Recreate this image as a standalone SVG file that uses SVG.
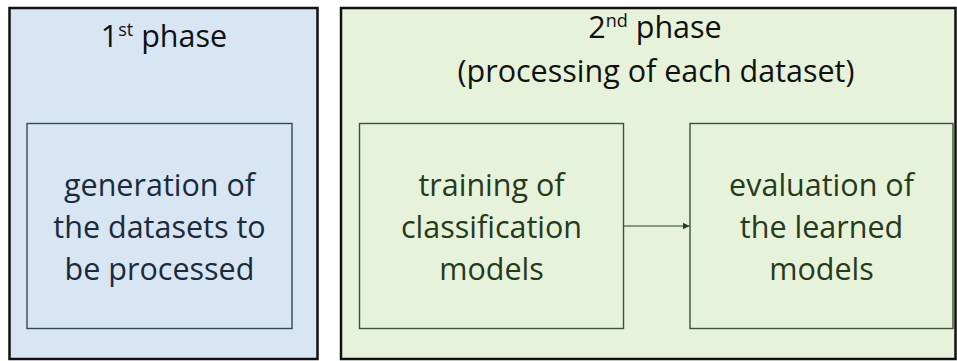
<svg xmlns="http://www.w3.org/2000/svg" width="957" height="361" viewBox="0 0 957 361">
<style>
text{font-family:"Open Sans","Liberation Sans",sans-serif;font-size:30.5px;text-anchor:middle}
.outer{stroke:#111;stroke-width:2.5}
.b1{fill:#d8e6f3}
.b2{fill:#e6f3da}
.in1{fill:none;stroke:#34485a;stroke-width:1.4}
.in2{fill:none;stroke:#3c5230;stroke-width:1.4}
.t1{fill:#1b2b3b}
.t2{fill:#263a1c}
.h{fill:#111}
.sup{font-size:18px}
</style>
<defs>
<marker id="arr" markerWidth="8" markerHeight="8" refX="7" refY="4" orient="auto" markerUnits="userSpaceOnUse">
<path d="M0,0.5 L7,4 L0,7.5 Z" fill="#2a3a20"/>
</marker>
</defs>
<g id="phase1">
<rect class="outer b1" x="9.5" y="8" width="308" height="351"/>
<text class="h" x="164" y="47">1<tspan class="sup" dy="-11">st</tspan><tspan dy="11"> phase</tspan></text>
</g>
<g id="generation">
<rect class="in1" x="27" y="123.5" width="265" height="205"/>
<text class="t1" x="159.5" y="196">generation of</text>
<text class="t1" x="159.5" y="238">the datasets to</text>
<text class="t1" x="159.5" y="280">be processed</text>
</g>
<g id="phase2">
<rect class="outer b2" x="341" y="8" width="614.5" height="351"/>
<text class="h" x="655" y="37.5">2<tspan class="sup" dy="-11">nd</tspan><tspan dy="11"> phase</tspan></text>
<text class="h" x="656" y="82">(processing of each dataset)</text>
</g>
<g id="training">
<rect class="in2" x="359.5" y="123.5" width="264" height="205"/>
<text class="t2" x="491.5" y="196">training of</text>
<text class="t2" x="491.5" y="238">classification</text>
<text class="t2" x="491.5" y="280">models</text>
</g>
<g id="evaluation">
<rect class="in2" x="690" y="123.5" width="263" height="205"/>
<text class="t2" x="821.5" y="196">evaluation of</text>
<text class="t2" x="821.5" y="238">the learned</text>
<text class="t2" x="821.5" y="280">models</text>
</g>
<g id="connectors">
<line x1="623.5" y1="226" x2="689.5" y2="226" stroke="#2a3a20" stroke-width="1" marker-end="url(#arr)"/>
</g>
</svg>
